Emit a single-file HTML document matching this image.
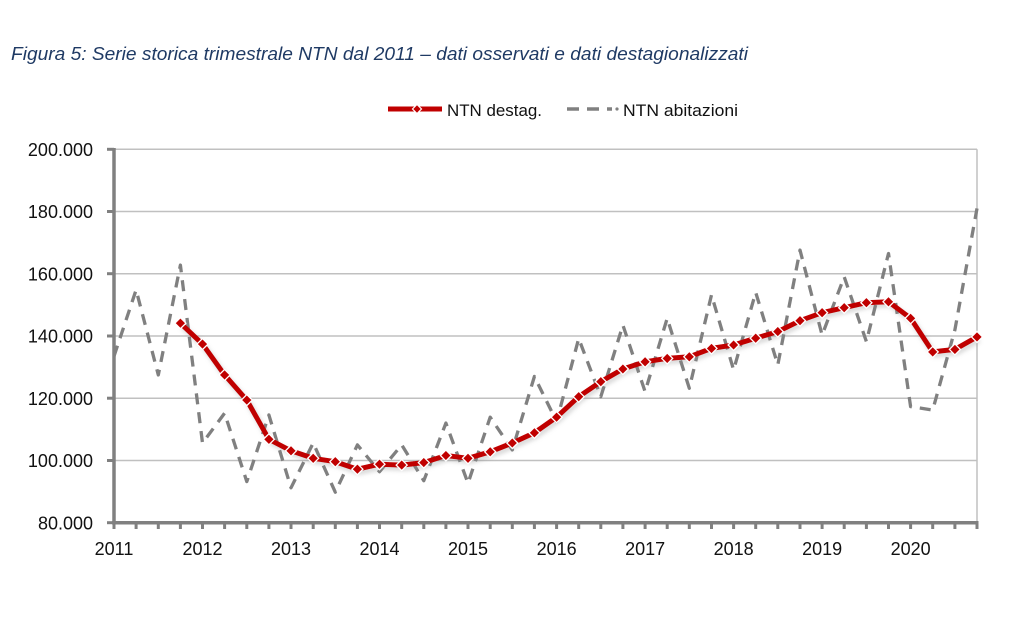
<!DOCTYPE html>
<html><head><meta charset="utf-8"><style>
html,body{margin:0;padding:0;background:#fff;}
svg{display:block;}
</style></head><body>
<svg width="1024" height="630" viewBox="0 0 1024 630" xmlns="http://www.w3.org/2000/svg">
<defs>
<filter id="sh" x="-5%" y="-5%" width="110%" height="120%">
<feDropShadow dx="2" dy="3" stdDeviation="2" flood-color="#888" flood-opacity="0.35"/>
</filter>
</defs>
<rect width="1024" height="630" fill="#fff"/>
<text x="11" y="60" font-family="Liberation Sans, sans-serif" font-style="italic" font-size="18" fill="#1f3a64" textLength="737" lengthAdjust="spacingAndGlyphs">Figura 5: Serie storica trimestrale NTN dal 2011 – dati osservati e dati destagionalizzati</text>

<!-- legend -->
<line x1="388" y1="109" x2="442" y2="109" stroke="#c00000" stroke-width="5"/>
<path d="M417 104.5 L421.5 109 L417 113.5 L412.5 109 Z" fill="#c00000" stroke="#fff" stroke-width="1.2"/>
<text x="447" y="116" font-family="Liberation Sans, sans-serif" font-size="17" fill="#111" textLength="95" lengthAdjust="spacingAndGlyphs">NTN destag.</text>
<line x1="567" y1="109" x2="612" y2="109" stroke="#808080" stroke-width="3.5" stroke-dasharray="12 8"/>
<circle cx="617" cy="109" r="1.6" fill="#808080"/>
<text x="623" y="116" font-family="Liberation Sans, sans-serif" font-size="17" fill="#111" textLength="115" lengthAdjust="spacingAndGlyphs">NTN abitazioni</text>

<!-- gridlines -->
<g stroke="#c0c0c0" stroke-width="1.5">
<line x1="114" y1="149.3" x2="977" y2="149.3"/>
<line x1="114" y1="211.5" x2="977" y2="211.5"/>
<line x1="114" y1="273.7" x2="977" y2="273.7"/>
<line x1="114" y1="336" x2="977" y2="336"/>
<line x1="114" y1="398.2" x2="977" y2="398.2"/>
<line x1="114" y1="460.5" x2="977" y2="460.5"/>
<line x1="977" y1="149.3" x2="977" y2="522.7"/>
</g>

<!-- y labels -->
<g font-family="Liberation Sans, sans-serif" font-size="18" fill="#111" text-anchor="end">
<text x="93" y="156">200.000</text>
<text x="93" y="218.2">180.000</text>
<text x="93" y="280.4">160.000</text>
<text x="93" y="342.7">140.000</text>
<text x="93" y="404.9">120.000</text>
<text x="93" y="467.2">100.000</text>
<text x="93" y="529.4">80.000</text>
</g>

<!-- x labels -->
<g font-family="Liberation Sans, sans-serif" font-size="18" fill="#111" text-anchor="middle">
<text x="114" y="555">2011</text>
<text x="202.5" y="555">2012</text>
<text x="291" y="555">2013</text>
<text x="379.5" y="555">2014</text>
<text x="468" y="555">2015</text>
<text x="556.6" y="555">2016</text>
<text x="645.1" y="555">2017</text>
<text x="733.6" y="555">2018</text>
<text x="822.1" y="555">2019</text>
<text x="910.6" y="555">2020</text>
</g>

<!-- gray dashed series -->
<polyline fill="none" stroke="#808080" stroke-width="3.3" stroke-dasharray="11 8" stroke-linejoin="round"
points="114,356.2 136.1,289.9 158.3,374.9 180.4,265.1 202.5,443 224.6,413.2 246.8,481.6 268.9,415 291,487.8 313.2,443 335.3,492.2 357.4,444.9 379.5,471.7 401.7,444.9 423.8,480.7 445.9,423.1 468,483.2 490.2,417.2 512.3,449.9 534.4,376.5 556.6,421.6 578.7,338.5 600.8,396.7 622.9,325.1 645.1,391.7 667.2,318.3 689.3,388.3 711.5,294.9 733.6,369.9 755.7,292.4 777.8,364.9 800,250.1 822.1,335.1 844.2,276.9 866.4,341.6 888.5,253.5 910.6,406.6 932.7,410.1 954.9,329.8 977,208.4"/>

<!-- red series -->
<g filter="url(#sh)">
<polyline fill="none" stroke="#c00000" stroke-width="5" stroke-linejoin="round"
points="180.4,323.2 202.5,344.1 224.6,374.9 246.8,400.1 268.9,439.3 291,450.8 313.2,458.3 335.3,461.7 357.4,469.2 379.5,464.2 401.7,465.1 423.8,462.6 445.9,455.5 468,458.3 490.2,451.8 512.3,443 534.4,432.8 556.6,417.2 578.7,396.7 600.8,381.7 622.9,369 645.1,361.8 667.2,358.4 689.3,356.8 711.5,348.4 733.6,345 755.7,338.2 777.8,331.6 800,320.7 822.1,312.7 844.2,307.7 866.4,302.7 888.5,301.8 910.6,318.3 932.7,351.9 954.9,349.4 977,336.9"/>
</g>
<g fill="#c00000" stroke="#fff" stroke-width="1.3">
<path d="M180.4 317.7 l5.5 5.5 l-5.5 5.5 l-5.5 -5.5 Z"/>
<path d="M202.5 338.6 l5.5 5.5 l-5.5 5.5 l-5.5 -5.5 Z"/>
<path d="M224.6 369.4 l5.5 5.5 l-5.5 5.5 l-5.5 -5.5 Z"/>
<path d="M246.8 394.6 l5.5 5.5 l-5.5 5.5 l-5.5 -5.5 Z"/>
<path d="M268.9 433.8 l5.5 5.5 l-5.5 5.5 l-5.5 -5.5 Z"/>
<path d="M291 445.3 l5.5 5.5 l-5.5 5.5 l-5.5 -5.5 Z"/>
<path d="M313.2 452.8 l5.5 5.5 l-5.5 5.5 l-5.5 -5.5 Z"/>
<path d="M335.3 456.2 l5.5 5.5 l-5.5 5.5 l-5.5 -5.5 Z"/>
<path d="M357.4 463.7 l5.5 5.5 l-5.5 5.5 l-5.5 -5.5 Z"/>
<path d="M379.5 458.7 l5.5 5.5 l-5.5 5.5 l-5.5 -5.5 Z"/>
<path d="M401.7 459.6 l5.5 5.5 l-5.5 5.5 l-5.5 -5.5 Z"/>
<path d="M423.8 457.1 l5.5 5.5 l-5.5 5.5 l-5.5 -5.5 Z"/>
<path d="M445.9 450 l5.5 5.5 l-5.5 5.5 l-5.5 -5.5 Z"/>
<path d="M468 452.8 l5.5 5.5 l-5.5 5.5 l-5.5 -5.5 Z"/>
<path d="M490.2 446.3 l5.5 5.5 l-5.5 5.5 l-5.5 -5.5 Z"/>
<path d="M512.3 437.5 l5.5 5.5 l-5.5 5.5 l-5.5 -5.5 Z"/>
<path d="M534.4 427.3 l5.5 5.5 l-5.5 5.5 l-5.5 -5.5 Z"/>
<path d="M556.6 411.7 l5.5 5.5 l-5.5 5.5 l-5.5 -5.5 Z"/>
<path d="M578.7 391.2 l5.5 5.5 l-5.5 5.5 l-5.5 -5.5 Z"/>
<path d="M600.8 376.2 l5.5 5.5 l-5.5 5.5 l-5.5 -5.5 Z"/>
<path d="M622.9 363.5 l5.5 5.5 l-5.5 5.5 l-5.5 -5.5 Z"/>
<path d="M645.1 356.3 l5.5 5.5 l-5.5 5.5 l-5.5 -5.5 Z"/>
<path d="M667.2 352.9 l5.5 5.5 l-5.5 5.5 l-5.5 -5.5 Z"/>
<path d="M689.3 351.3 l5.5 5.5 l-5.5 5.5 l-5.5 -5.5 Z"/>
<path d="M711.5 342.9 l5.5 5.5 l-5.5 5.5 l-5.5 -5.5 Z"/>
<path d="M733.6 339.5 l5.5 5.5 l-5.5 5.5 l-5.5 -5.5 Z"/>
<path d="M755.7 332.7 l5.5 5.5 l-5.5 5.5 l-5.5 -5.5 Z"/>
<path d="M777.8 326.1 l5.5 5.5 l-5.5 5.5 l-5.5 -5.5 Z"/>
<path d="M800 315.2 l5.5 5.5 l-5.5 5.5 l-5.5 -5.5 Z"/>
<path d="M822.1 307.2 l5.5 5.5 l-5.5 5.5 l-5.5 -5.5 Z"/>
<path d="M844.2 302.2 l5.5 5.5 l-5.5 5.5 l-5.5 -5.5 Z"/>
<path d="M866.4 297.2 l5.5 5.5 l-5.5 5.5 l-5.5 -5.5 Z"/>
<path d="M888.5 296.3 l5.5 5.5 l-5.5 5.5 l-5.5 -5.5 Z"/>
<path d="M910.6 312.8 l5.5 5.5 l-5.5 5.5 l-5.5 -5.5 Z"/>
<path d="M932.7 346.4 l5.5 5.5 l-5.5 5.5 l-5.5 -5.5 Z"/>
<path d="M954.9 343.9 l5.5 5.5 l-5.5 5.5 l-5.5 -5.5 Z"/>
<path d="M977 331.4 l5.5 5.5 l-5.5 5.5 l-5.5 -5.5 Z"/>
</g>

<!-- axes -->
<g stroke="#808080" stroke-width="3.5">
<line x1="114" y1="148" x2="114" y2="524"/>
<line x1="112" y1="522.7" x2="978.5" y2="522.7"/>
</g>
<g stroke="#808080" stroke-width="3">
<line x1="107" y1="149.3" x2="114" y2="149.3"/>
<line x1="107" y1="211.5" x2="114" y2="211.5"/>
<line x1="107" y1="273.7" x2="114" y2="273.7"/>
<line x1="107" y1="336" x2="114" y2="336"/>
<line x1="107" y1="398.2" x2="114" y2="398.2"/>
<line x1="107" y1="460.5" x2="114" y2="460.5"/>
<line x1="107" y1="522.7" x2="114" y2="522.7"/>
</g>
<g stroke="#808080" stroke-width="3">
<line x1="114" y1="522" x2="114" y2="529"/><line x1="136.1" y1="522" x2="136.1" y2="529"/><line x1="158.3" y1="522" x2="158.3" y2="529"/><line x1="180.4" y1="522" x2="180.4" y2="529"/>
<line x1="202.5" y1="522" x2="202.5" y2="529"/><line x1="224.6" y1="522" x2="224.6" y2="529"/><line x1="246.8" y1="522" x2="246.8" y2="529"/><line x1="268.9" y1="522" x2="268.9" y2="529"/>
<line x1="291" y1="522" x2="291" y2="529"/><line x1="313.2" y1="522" x2="313.2" y2="529"/><line x1="335.3" y1="522" x2="335.3" y2="529"/><line x1="357.4" y1="522" x2="357.4" y2="529"/>
<line x1="379.5" y1="522" x2="379.5" y2="529"/><line x1="401.7" y1="522" x2="401.7" y2="529"/><line x1="423.8" y1="522" x2="423.8" y2="529"/><line x1="445.9" y1="522" x2="445.9" y2="529"/>
<line x1="468" y1="522" x2="468" y2="529"/><line x1="490.2" y1="522" x2="490.2" y2="529"/><line x1="512.3" y1="522" x2="512.3" y2="529"/><line x1="534.4" y1="522" x2="534.4" y2="529"/>
<line x1="556.6" y1="522" x2="556.6" y2="529"/><line x1="578.7" y1="522" x2="578.7" y2="529"/><line x1="600.8" y1="522" x2="600.8" y2="529"/><line x1="622.9" y1="522" x2="622.9" y2="529"/>
<line x1="645.1" y1="522" x2="645.1" y2="529"/><line x1="667.2" y1="522" x2="667.2" y2="529"/><line x1="689.3" y1="522" x2="689.3" y2="529"/><line x1="711.5" y1="522" x2="711.5" y2="529"/>
<line x1="733.6" y1="522" x2="733.6" y2="529"/><line x1="755.7" y1="522" x2="755.7" y2="529"/><line x1="777.8" y1="522" x2="777.8" y2="529"/><line x1="800" y1="522" x2="800" y2="529"/>
<line x1="822.1" y1="522" x2="822.1" y2="529"/><line x1="844.2" y1="522" x2="844.2" y2="529"/><line x1="866.4" y1="522" x2="866.4" y2="529"/><line x1="888.5" y1="522" x2="888.5" y2="529"/>
<line x1="910.6" y1="522" x2="910.6" y2="529"/><line x1="932.7" y1="522" x2="932.7" y2="529"/><line x1="954.9" y1="522" x2="954.9" y2="529"/><line x1="977" y1="522" x2="977" y2="529"/>
</g>
</svg>
</body></html>
